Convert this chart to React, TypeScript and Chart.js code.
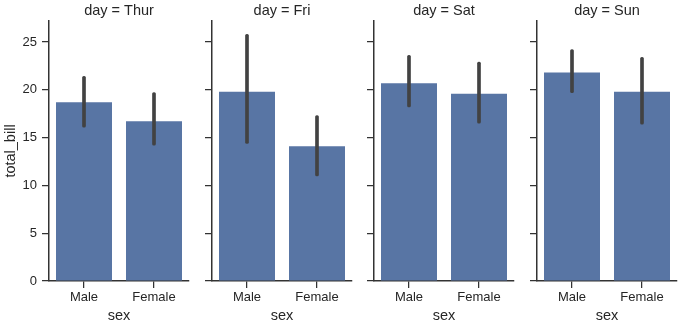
import React, { useEffect, useRef } from "react";
import { Chart, registerables } from "chart.js";

Chart.register(...registerables);

const days = ["Thur", "Fri", "Sat", "Sun"];
const sexes = ["Male", "Female"];
const maleMean = [18.7, 19.8, 20.7, 21.8];
const femaleMean = [16.7, 14.1, 19.6, 19.8];
const maleCiLow = [16.1, 14.4, 18.2, 19.7];
const maleCiHigh = [21.4, 25.8, 23.6, 24.2];
const femaleCiLow = [14.2, 11.0, 16.5, 16.4];
const femaleCiHigh = [19.7, 17.3, 22.9, 23.4];
const yTicks = [0, 5, 10, 15, 20, 25];
const yMax = 27.2;

const BAR = "#5875a4";
const ERR = "#424242";
const AXIS = "#333333";
const TEXT = "#262626";
const FONT = "'Liberation Sans', Arial, sans-serif";

// panel layout: canvas left, canvas width, y-scale width, right padding
const panels = [
  { left: 0, width: 195, yw: 49, pr: 6 },
  { left: 200, width: 158, yw: 12, pr: 6 },
  { left: 362, width: 158, yw: 12, pr: 6 },
  { left: 525, width: 154, yw: 12, pr: 2 },
];

function Panel({ idx }: { idx: number }) {
  const ref = useRef<HTMLCanvasElement | null>(null);
  const p = panels[idx];
  useEffect(() => {
    if (!ref.current) return;
    const first = idx === 0;
    const chart = new Chart(ref.current, {
      type: "bar",
      data: {
        labels: sexes,
        datasets: [
          {
            label: "ci",
            data: [
              [maleCiLow[idx], maleCiHigh[idx]],
              [femaleCiLow[idx], femaleCiHigh[idx]],
            ] as any,
            backgroundColor: ERR,
            barThickness: 3,
            grouped: false,
            order: 0,
            borderRadius: 1.5,
            borderSkipped: false,
          } as any,
          {
            label: "total_bill",
            data: [maleMean[idx], femaleMean[idx]],
            backgroundColor: BAR,
            categoryPercentage: 1,
            barPercentage: 0.8,
            grouped: false,
            order: 1,
          } as any,
        ],
      },
      options: {
        animation: false,
        responsive: false,
        maintainAspectRatio: false,
        layout: { padding: { left: 0, right: p.pr, top: 0, bottom: 0 } },
        plugins: {
          legend: { display: false },
          tooltip: { enabled: false },
          title: {
            display: true,
            text: "day = " + days[idx],
            color: TEXT,
            fullSize: false,
            font: { family: FONT, size: 14.5, weight: "normal", lineHeight: 1.2 },
            padding: { top: 2, bottom: 1.6 },
          },
        },
        scales: {
          x: {
            type: "category",
            offset: true,
            grid: {
              display: true,
              drawOnChartArea: false,
              drawTicks: true,
              tickLength: 7,
              offset: false,
              color: AXIS,
              lineWidth: 1.25,
            },
            border: { display: true, color: AXIS, width: 1.5 },
            ticks: {
              color: TEXT,
              font: { family: FONT, size: 13 },
              padding: 2,
              maxRotation: 0,
            },
            title: {
              display: true,
              text: "sex",
              color: TEXT,
              font: { family: FONT, size: 14.5, lineHeight: 1.2 },
              padding: { top: 0, bottom: 0 },
            },
            afterFit: (s: any) => {
              s.height = 44;
            },
          },
          y: {
            type: "linear",
            min: 0,
            max: yMax,
            grid: {
              display: true,
              drawOnChartArea: false,
              drawTicks: true,
              tickLength: 7,
              color: AXIS,
              lineWidth: 1.25,
            },
            border: { display: true, color: AXIS, width: 1.5 },
            ticks: {
              display: first,
              stepSize: 5,
              includeBounds: false,
              color: TEXT,
              font: { family: FONT, size: 13 },
              padding: 5,
            },
            afterBuildTicks: (s: any) => {
              s.ticks = yTicks.map((v) => ({ value: v }));
            },
            title: {
              display: first,
              text: "total_bill",
              color: TEXT,
              font: { family: FONT, size: 14.5, lineHeight: 1.2 },
              padding: { top: 2, bottom: 0 },
            },
            afterFit: (s: any) => {
              s.width = p.yw;
            },
          },
        },
      } as any,
    });
    return () => chart.destroy();
  }, [idx]);
  return (
    <canvas
      ref={ref}
      width={p.width}
      height={325}
      style={{
        position: "absolute",
        left: p.left,
        top: 0,
        width: p.width,
        height: 325,
      }}
    />
  );
}

export default function App() {
  return (
    <div
      style={{
        position: "absolute",
        left: 0,
        top: 0,
        width: 679,
        height: 325,
        background: "#ffffff",
        overflow: "hidden",
      }}
    >
      {days.map((_, i) => (
        <Panel key={i} idx={i} />
      ))}
    </div>
  );
}
